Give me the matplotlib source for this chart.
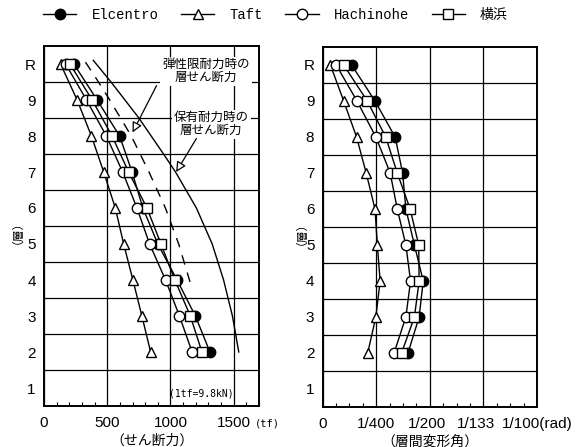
import matplotlib
matplotlib.use('Agg')
import matplotlib.pyplot as plt
from matplotlib.ticker import MultipleLocator, FixedLocator
from matplotlib.transforms import ScaledTranslation

plt.rcParams['font.family'] = ['Liberation Sans', 'Noto Sans CJK JP']

# floors from roof (R) down to 2F
floors = [10, 9, 8, 7, 6, 5, 4, 3, 2]
floor_ticks = [1, 2, 3, 4, 5, 6, 7, 8, 9, 10]
floor_labels = ['1', '2', '3', '4', '5', '6', '7', '8', '9', 'R']

# story shear (tf)
shear_elcentro = [236, 420, 598, 696, 782, 900, 1052, 1197, 1312]
shear_taft = [131, 262, 375, 472, 564, 630, 703, 774, 843]
shear_hachinohe = [171, 336, 493, 622, 735, 835, 961, 1071, 1171]
shear_yokohama = [205, 381, 538, 669, 814, 925, 1035, 1157, 1249]

# story drift angle (rad)
drift_elcentro = [0.00135, 0.00244, 0.00338, 0.00373, 0.00388, 0.00428, 0.00469, 0.00450, 0.00398]
drift_taft = [0.00036, 0.00098, 0.00158, 0.00203, 0.00244, 0.00255, 0.00268, 0.00248, 0.00210]
drift_hachinohe = [0.00063, 0.00160, 0.00248, 0.00315, 0.00348, 0.00388, 0.00410, 0.00388, 0.00333]
drift_yokohama = [0.00098, 0.00208, 0.00294, 0.00348, 0.00408, 0.00448, 0.00450, 0.00428, 0.00368]

# design shear curves
elastic_floor = [10.05, 9.63, 9.0, 8.0, 7.0, 6.0, 5.0, 4.0, 3.76]
elastic_shear = [328, 407, 520, 690, 830, 960, 1065, 1150, 1170]
ultimate_floor = [10.1, 9.5, 8.5, 7.5, 7.0, 6.0, 5.0, 4.0, 3.0, 2.0]
ultimate_shear = [390, 530, 750, 945, 1040, 1205, 1330, 1420, 1490, 1540]

x1_ticks = [0, 500, 1000, 1500]
x1_labels = ['0', '500', '1000', '1500']
x2_ticks = [0, 0.0025, 0.005, 0.0075, 0.01]
x2_labels = ['0', '1/400', '1/200', '1/133', '1/100(rad)']

names = ['Elcentro', 'Taft', 'Hachinohe', '横浜']
markers = ['o', '^', 'o', 's']
fills = ['black', 'white', 'white', 'white']

fig = plt.figure(figsize=(5.8, 4.47), dpi=100)
ax1 = fig.add_axes([44 / 580, 1 - 406 / 447, 215 / 580, 360 / 447])
ax2 = fig.add_axes([322.7 / 580, 1 - 407 / 447, 214.3 / 580, 360 / 447])

shears = [shear_elcentro, shear_taft, shear_hachinohe, shear_yokohama]
drifts = [drift_elcentro, drift_taft, drift_hachinohe, drift_yokohama]

handles = []
for i in [1, 2, 3, 0]:
    kw = dict(color='black', lw=1.0, marker=markers[i], ms=7.5 if markers[i] != 's' else 6.5,
              mfc=fills[i], mec='black', mew=1.0, zorder=3 + i * 0.1)
    h, = ax1.plot(shears[i], floors, label=names[i], **kw)
    ax2.plot(drifts[i], floors, **kw)
    handles.append((i, h))
handles.sort()

ax1.plot(elastic_shear, elastic_floor, color='black', lw=1.0, dashes=(7, 6), zorder=2)
ax1.plot(ultimate_shear, ultimate_floor, color='black', lw=1.0, zorder=2)

for ax in (ax1, ax2):
    ax.set_ylim(0.5, 10.5)
    ax.set_yticks(floor_ticks)
    ax.set_yticklabels(floor_labels)
    ax.yaxis.set_minor_locator(FixedLocator([f + 0.5 for f in range(1, 10)]))
    ax.grid(True, which='minor', axis='y', color='black', lw=0.9, zorder=1)
    ax.grid(True, which='major', axis='x', color='black', lw=0.9, zorder=1)
    ax.tick_params(axis='y', which='both', length=0, labelsize=11, pad=6)
    ax.tick_params(axis='x', which='major', length=0, labelsize=11, pad=7.5)
    ax.tick_params(axis='x', which='minor', direction='in', length=3, width=0.8)
    for s in ax.spines.values():
        s.set_linewidth(1.4)
    ax.set_ylabel('（層）', fontsize=8.5)

ax1.set_xlim(0, 1700)
ax1.set_xticks(x1_ticks)
ax1.set_xticklabels(x1_labels)
ax1.xaxis.set_minor_locator(MultipleLocator(100))
ax1.set_xlabel('（せん断力）', fontsize=10, labelpad=2)
ax1.yaxis.set_label_coords(-0.125, 0.5)
ax1.text(1665, -0.05, '(tf)', transform=ax1.get_xaxis_transform(),
         ha='left', va='center', fontsize=7.5, family='DejaVu Sans Mono')
ax1.text(1247, 0.85, '(1tf=9.8kN)', ha='center', va='center', fontsize=7,
         family='DejaVu Sans Mono', zorder=4)

ax2.set_xlim(0, 0.01)
ax2.set_xticks(x2_ticks)
ax2.set_xticklabels(x2_labels)
ax2.xaxis.set_minor_locator(MultipleLocator(0.000625))
ax2.set_xlabel('（層間変形角）', fontsize=10, labelpad=2)
ax2.yaxis.set_label_coords(-0.098, 0.5)
# nudge the crowded drift labels left a little, as in the original
for lab, dx in zip(ax2.get_xticklabels(), [0, 0, -3, -7, 0]):
    lab.set_transform(lab.get_transform() + ScaledTranslation(dx / 100, 0, fig.dpi_scale_trans))

box = dict(facecolor='white', edgecolor='none', pad=1.5)
ax1.text(1283, 9.79, '弾性限耐力時の\n層せん断力', ha='center', va='center',
         fontsize=9, linespacing=1.1, bbox=box, zorder=5)
ax1.text(1323, 8.33, '保有耐力時の\n層せん断力', ha='center', va='center',
         fontsize=9, linespacing=1.1, bbox=box, zorder=5)
arrow = dict(arrowstyle='-|>,head_length=0.6,head_width=0.3', fc='white', ec='black',
             lw=0.9, shrinkA=0, shrinkB=0)
ax1.annotate('', xy=(700, 8.1), xytext=(890, 9.4), arrowprops=arrow, zorder=5)
ax1.annotate('', xy=(1045, 7.0), xytext=(1205, 7.93), arrowprops=arrow, zorder=5)

fig.legend([h for _, h in handles], names, loc='center', bbox_to_anchor=(0.475, 0.966),
           ncol=4, frameon=False, handlelength=2.4, handletextpad=1.1, columnspacing=1.6,
           prop={'family': ['Liberation Mono', 'Noto Sans CJK JP'], 'size': 10})

fig.savefig('out.png', dpi=100)
